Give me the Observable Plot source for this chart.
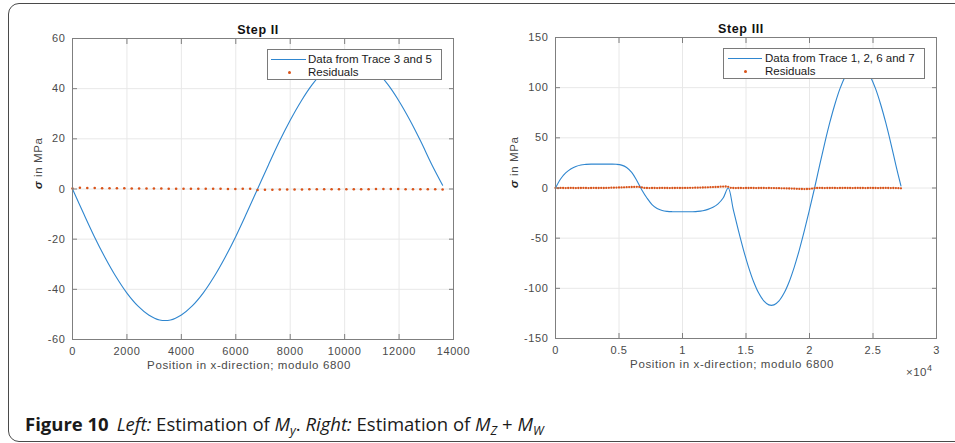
<!DOCTYPE html>
<html><head><meta charset="utf-8">
<script src="https://cdn.jsdelivr.net/npm/d3@7"></script>
<script src="https://cdn.jsdelivr.net/npm/@observablehq/plot@0.6"></script>
<style>
html,body{margin:0;padding:0;background:#fff;}
body{width:955px;height:443px;overflow:hidden;position:relative;font-family:"Liberation Sans",Arial,sans-serif;}
#frame{position:absolute;left:8px;top:3px;width:990px;height:439px;border:1.5px solid #4a4a4a;border-radius:11px;box-sizing:border-box;z-index:10;pointer-events:none;}
#left{position:absolute;left:0;top:0;}
#right{position:absolute;left:480px;top:0;}
.legend{position:absolute;background:#fff;border:1px solid #7a7a7a;box-sizing:border-box;font-size:11.5px;line-height:13px;color:#1a1a1a;}
.legend .row{position:absolute;white-space:nowrap;}
.legend .ln{position:absolute;height:0;border-top:1.2px solid #2f86cf;}
.legend .dt{position:absolute;width:3px;height:3px;border-radius:50%;background:#d95319;}
#exp{position:absolute;left:906px;top:363px;font-size:11.5px;letter-spacing:0.5px;color:#4a4a4a;}
#exp sup{font-size:9px;vertical-align:5px;margin-left:0px;}
#caption{position:absolute;left:25px;top:411px;font-family:"Open Sans",sans-serif;font-size:18.5px;color:#1a1a1a;white-space:nowrap;}
#caption b{font-weight:700;margin-right:8px;}
#caption i{font-style:italic;}
#caption sub{font-size:12.5px;vertical-align:-4px;font-style:italic;}
</style>
</head><body>
<div id="frame"></div>
<div id="left"></div>
<div id="right"></div>
<div class="legend" style="left:267px;top:49px;width:175px;height:31px">
  <div class="ln" style="left:3px;top:9px;width:35px"></div>
  <div class="row" style="left:40px;top:3px">Data from Trace 3 and 5</div>
  <div class="dt" style="left:20px;top:21px"></div>
  <div class="row" style="left:40px;top:16px">Residuals</div>
</div>
<div class="legend" style="left:723px;top:48px;width:202px;height:31px">
  <div class="ln" style="left:4px;top:9px;width:34px"></div>
  <div class="row" style="left:41px;top:3px">Data from Trace 1, 2, 6 and 7</div>
  <div class="dt" style="left:20px;top:21px"></div>
  <div class="row" style="left:41px;top:16px">Residuals</div>
</div>
<div id="exp">×10<sup>4</sup></div>
<div id="caption"><b>Figure 10</b><i>Left:</i> Estimation of <i>M</i><sub>y</sub>. <i>Right:</i> Estimation of <i>M</i><sub>Z</sub> + <i>M</i><sub>W</sub></div>
<script>
// ---------- data ----------
const titles = ["Step II", "Step III"];
const xLabel = "Position in x-direction; modulo 6800";
const yLabel = "σ in MPa";

// Step II
const leftXTicks = [0, 2000, 4000, 6000, 8000, 10000, 12000, 14000];
const leftYTicks = [-60, -40, -20, 0, 20, 40, 60];
const leftLineStep = 400;
const leftLine = [0, -9.6, -18.9, -27.4, -35.0, -41.5, -46.6, -50.2, -52.2, -52.2, -50.2, -46.6, -41.5, -35.0, -27.4, -18.9, -9.6, 0,
  9.6, 18.9, 27.4, 35.0, 41.5, 46.6, 50.2, 52.2, 52.2, 50.2, 46.6, 41.5, 35.0, 27.4, 18.9, 9.8, 1.5];
const leftResStep = 272;
const leftRes = [0.2, 0.5, 0.4, 0.4, 0.3, 0.3, 0.3, 0.3, 0.2, 0.2, 0.2, 0.2, 0.2, 0.1, 0.1, 0.1, 0.1, 0.1, 0.1, 0.1, 0.1, 0.0, 0.0, 0.1, 0.1,
  -0.4, -0.3, -0.3, -0.2, -0.2, -0.2, -0.2, -0.1, -0.1, -0.1, -0.1, -0.1, -0.1, -0.1, -0.1, -0.1, 0, 0, 0, 0, -0.1, -0.1, -0.1, -0.1, -0.1, -0.2];

// Step III
const rightXTicks = [0, 5000, 10000, 15000, 20000, 25000, 30000];
const rightYTicks = [-150, -100, -50, 0, 50, 100, 150];
const rightLineStep = 400;
const rightLine = [0, 9, 15, 19, 21.5, 23, 23.5, 23.8, 23.8, 23.8, 23.8, 23.8, 23.6, 22.8, 20.5, 15.5, 7.5,
  -2, -10, -16.5, -20.5, -22.5, -23.3, -23.6, -23.7, -23.7, -23.7, -23.6, -23.3, -22.6, -21.3, -19.2, -15.8, -10, 0,
  -21.5, -42.3, -61.6, -78.8, -93.4, -104.7, -112.5, -116.5, -116.5, -112.5, -104.7, -93.4, -78.8, -61.6, -42.3, -21.5, 0,
  22.8, 44.8, 65.3, 83.5, 99.0, 111.0, 119.3, 123.5, 123.5, 119.3, 111.0, 99.0, 83.5, 65.3, 44.8, 22.8, 2];
const rightResStep = 200;
const rightRes = [0, -0.2, 0.1, 0, -0.1, 0, 0.1, 0, -0.1, 0, 0, 0.1, 0, -0.1, 0, 0.1, 0, 0, 0.1, 0, 0.1, 0.2, 0.3, 0.3, 0.4,
  0.5, 0.6, 0.7, 0.8, 0.9, 1.0, 1.1, 1.2, 1.1, 0.6,
  0.1, 0, -0.1, 0, 0, -0.1, 0, 0.1, 0, 0, -0.1, 0, 0, 0.1, 0, 0, 0.1, 0.1, 0.2, 0.2, 0.3, 0.3, 0.4, 0.5, 0.6, 0.7,
  0.8, 0.9, 1.0, 1.1, 1.3, 1.4, 1.5, 1.2,
  0.2, 0, -0.1, 0, 0, -0.1, 0, 0, 0.1, 0, -0.1, 0, 0, 0, -0.1, 0, -0.1, -0.1, -0.2, -0.2, -0.3, -0.3, -0.4, -0.5, -0.6, -0.7,
  -0.8, -0.9, -1.0, -1.1, -1.0, -0.9, -0.6, -0.2,
  0, 0.1, 0, -0.1, 0, 0, 0.1, 0, -0.1, 0, 0, 0.1, 0, 0, -0.1, 0, 0.1, 0, 0, -0.1, 0, 0.1, 0, 0, -0.1, 0, 0, 0.1, 0, -0.1, 0, -0.1, -0.2, -0.3];

// ---------- drawing ----------
const lineColor = "#2f86cf", resColor = "#d95319", gridColor = "#e8e8e8", axisColor = "#7f7f7f", textColor = "#4a4a4a";

function series(values, step) { return values.map((v, i) => ({x: i * step, y: v})); }

function panel({width, height, margins, xDomain, yDomain, xTicks, yTicks, xFmt, title, line, res, dotR, yLabelDx}) {
  return Plot.plot({
    width, height,
    marginLeft: margins[0], marginTop: margins[1], marginRight: margins[2], marginBottom: margins[3],
    x: {domain: xDomain},
    y: {domain: yDomain},
    style: {fontFamily: "Liberation Sans, Arial, sans-serif", fontSize: "11px", letterSpacing: "0.6px", background: "transparent"},
    marks: [
      Plot.ruleX(xTicks, {stroke: gridColor, strokeWidth: 1}),
      Plot.ruleY(yTicks, {stroke: gridColor, strokeWidth: 1}),
      Plot.line(line, {x: "x", y: "y", stroke: lineColor, strokeWidth: 1.1, curve: "catmull-rom"}),
      Plot.dot(res, {x: "x", y: "y", r: dotR, fill: resColor, stroke: null}),
      Plot.frame({stroke: axisColor, strokeWidth: 1}),
      Plot.axisX({ticks: xTicks, anchor: "bottom", tickSize: -5, stroke: axisColor, tickFormat: () => "", label: null}),
      Plot.axisX({ticks: xTicks, anchor: "top", tickSize: -5, stroke: axisColor, tickFormat: () => "", label: null}),
      Plot.axisY({ticks: yTicks, anchor: "left", tickSize: -5, stroke: axisColor, tickFormat: () => "", label: null}),
      Plot.axisY({ticks: yTicks, anchor: "right", tickSize: -5, stroke: axisColor, tickFormat: () => "", label: null}),
      Plot.axisX({ticks: xTicks, anchor: "bottom", tickSize: 0, tickPadding: 8, tickFormat: xFmt, fill: textColor, label: null}),
      Plot.axisY({ticks: yTicks, anchor: "left", tickSize: 0, tickPadding: 7, tickFormat: d => String(d), fill: textColor, label: null}),
      Plot.text([title], {frameAnchor: "top", dx: -5, dy: -13, fontWeight: "bold", fontSize: 12.5, fill: "#111"}),
      Plot.text([xLabel], {frameAnchor: "bottom", dx: -14, dy: 29, fontSize: 11.5, fill: textColor}),
      Plot.text([yLabel], {frameAnchor: "left", dx: yLabelDx, rotate: -90, fontSize: 11.5, fill: textColor})
    ]
  });
}

const left = panel({
  width: 480, height: 380, margins: [72, 38, 27, 41],
  xDomain: [0, 14000], yDomain: [-60, 60], xTicks: leftXTicks, yTicks: leftYTicks,
  xFmt: d => String(d), title: titles[0], dotR: 1.3, yLabelDx: -34,
  line: series(leftLine, leftLineStep), res: series(leftRes, leftResStep)
});
const right = panel({
  width: 475, height: 380, margins: [75, 37, 19, 42],
  xDomain: [0, 30000], yDomain: [-150, 150], xTicks: rightXTicks, yTicks: rightYTicks,
  xFmt: d => String(d / 10000), title: titles[1], dotR: 1.15, yLabelDx: -41,
  line: series(rightLine, rightLineStep), res: series(rightRes, rightResStep)
});
document.getElementById("left").appendChild(left);
document.getElementById("right").appendChild(right);

// bold sigma in the y labels
for (const svg of [left, right]) {
  svg.querySelectorAll("text").forEach(t => {
    if (t.textContent === yLabel) {
      t.textContent = "";
      const ns = "http://www.w3.org/2000/svg";
      const a = document.createElementNS(ns, "tspan");
      a.setAttribute("font-weight", "bold"); a.setAttribute("font-style", "italic"); a.setAttribute("fill", "#222");
      a.textContent = "σ";
      const b = document.createElementNS(ns, "tspan");
      b.textContent = " in MPa";
      t.appendChild(a); t.appendChild(b);
    }
  });
}
</script>
</body></html>
